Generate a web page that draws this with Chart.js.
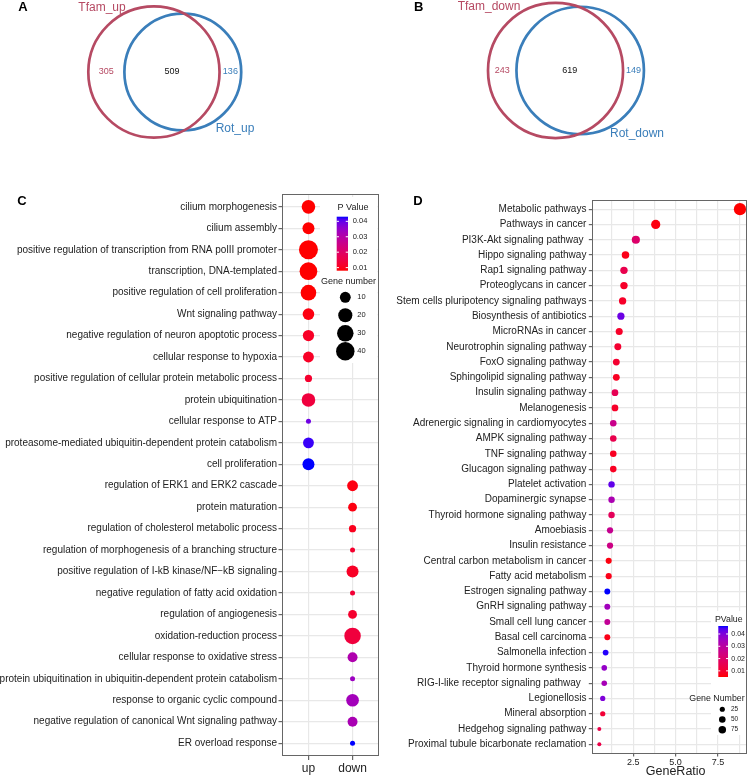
<!DOCTYPE html>
<html>
<head>
<meta charset="utf-8">
<script src="https://cdn.jsdelivr.net/npm/chart.js@4.4.1/dist/chart.umd.min.js"></script>
<style>
  html, body { margin: 0; padding: 0; background: #fff; }
  #fig { position: relative; width: 748px; height: 778px; overflow: hidden; }
  #fig canvas { position: absolute; }
</style>
</head>
<body>
<div id="fig">
  <canvas id="vennA" width="374" height="180" style="left:0;top:0"></canvas>
  <canvas id="vennB" width="374" height="180" style="left:374px;top:0"></canvas>
  <canvas id="goC" width="380" height="598" style="left:0;top:180px"></canvas>
  <canvas id="keggD" width="368" height="598" style="left:380px;top:180px"></canvas>
</div>
<script>
// ---- data ---------------------------------------------------------------
// Venn counts: [only first set, shared, only second set]
const vennUpSets = ["Tfam_up", "Rot_up"];
const vennUpCounts = [305, 509, 136];
const vennDownSets = ["Tfam_down", "Rot_down"];
const vennDownCounts = [243, 619, 149];

// GO terms (panel C)
const goGroups = ["up", "down"];
const goTerms = [
  "cilium morphogenesis",
  "cilium assembly",
  "positive regulation of transcription from RNA polII promoter",
  "transcription, DNA-templated",
  "positive regulation of cell proliferation",
  "Wnt signaling pathway",
  "negative regulation of neuron apoptotic process",
  "cellular response to hypoxia",
  "positive regulation of cellular protein metabolic process",
  "protein ubiquitination",
  "cellular response to ATP",
  "proteasome-mediated ubiquitin-dependent protein catabolism",
  "cell proliferation",
  "regulation of ERK1 and ERK2 cascade",
  "protein maturation",
  "regulation of cholesterol metabolic process",
  "regulation of morphogenesis of a branching structure",
  "positive regulation of I-kB kinase/NF\u2212kB signaling",
  "negative regulation of fatty acid oxidation",
  "regulation of angiogenesis",
  "oxidation-reduction process",
  "cellular response to oxidative stress",
  "protein ubiquitination in ubiquitin-dependent protein catabolism",
  "response to organic cyclic compound",
  "negative regulation of canonical Wnt signaling pathway",
  "ER overload response"
];
const goGroup = ["up", "up", "up", "up", "up", "up", "up", "up", "up", "up", "up", "up", "up",
  "down", "down", "down", "down", "down", "down", "down", "down", "down", "down", "down", "down", "down"];
const goCount = [18, 13, 43, 36, 26, 12, 11, 10, 4, 18, 3, 10, 13,
  10, 6, 4, 3, 13, 3, 6, 30, 8, 3, 15, 8, 3];
const goPValue = [0.008, 0.008, 0.008, 0.008, 0.008, 0.009, 0.011, 0.011, 0.012, 0.014, 0.039, 0.042, 0.043,
  0.009, 0.009, 0.010, 0.012, 0.011, 0.013, 0.012, 0.014, 0.031, 0.034, 0.033, 0.032, 0.043];

// KEGG pathways (panel D)
const keggPathways = [
  "Metabolic pathways", "Pathways in cancer", "PI3K-Akt signaling pathway ", "Hippo signaling pathway",
  "Rap1 signaling pathway", "Proteoglycans in cancer", "Stem cells pluripotency signaling pathways",
  "Biosynthesis of antibiotics", "MicroRNAs in cancer", "Neurotrophin signaling pathway", "FoxO signaling pathway",
  "Sphingolipid signaling pathway", "Insulin signaling pathway", "Melanogenesis",
  "Adrenergic signaling in cardiomyocytes", "AMPK signaling pathway", "TNF signaling pathway",
  "Glucagon signaling pathway", "Platelet activation", "Dopaminergic synapse", "Thyroid hormone signaling pathway",
  "Amoebiasis", "Insulin resistance", "Central carbon metabolism in cancer", "Fatty acid metabolism",
  "Estrogen signaling pathway", "GnRH signaling pathway", "Small cell lung cancer", "Basal cell carcinoma",
  "Salmonella infection", "Thyroid hormone synthesis", "RIG-I-like receptor signaling pathway  ",
  "Legionellosis", "Mineral absorption", "Hedgehog signaling pathway", "Proximal tubule bicarbonate reclamation"
];
const keggRatio = [8.79, 3.83, 2.66, 2.05, 1.96, 1.96, 1.88, 1.78, 1.68, 1.60, 1.51, 1.51, 1.43, 1.43,
  1.33, 1.33, 1.33, 1.33, 1.23, 1.23, 1.23, 1.14, 1.14, 1.06, 1.06, 0.98, 0.98, 0.98, 0.98,
  0.88, 0.80, 0.80, 0.71, 0.71, 0.51, 0.51];
const keggCount = [325, 142, 98, 76, 72, 72, 69, 66, 62, 59, 56, 56, 53, 53,
  49, 49, 49, 49, 46, 46, 46, 42, 42, 39, 39, 36, 36, 36, 36,
  33, 30, 30, 26, 26, 19, 19];
const keggPValue = [0.005, 0.006, 0.020, 0.007, 0.015, 0.009, 0.009, 0.042, 0.009, 0.010, 0.010, 0.008, 0.016, 0.009,
  0.026, 0.015, 0.008, 0.008, 0.043, 0.033, 0.017, 0.027, 0.025, 0.006, 0.007, 0.0465, 0.035, 0.028, 0.007,
  0.046, 0.037, 0.034, 0.040, 0.011, 0.014, 0.014];
const keggTicks = [2.5, 5.0, 7.5];

const pBreaks = [0.01, 0.02, 0.03, 0.04];
const goSizeBreaks = [10, 20, 30, 40];
const keggSizeBreaks = [25, 50, 75];

// ---- styling ------------------------------------------------------------
const FONT = "'Liberation Sans', Arial, Helvetica, sans-serif";
const TEXT = "#222222";
const GRID = "#E8E8E8";
const AXIS = "#666666";
const VENN_RED = "#B64A63";
const VENN_BLUE = "#3A7EBA";
const VENN_K = 2.3; // px per sqrt(gene)

Chart.defaults.font.family = FONT;

// ---- helpers ------------------------------------------------------------
// ggplot style red -> blue gradient, interpolated in CIE Lab
function srgbToLab([r, g, b]) {
  const lin = (c) => { c /= 255; return c <= 0.04045 ? c / 12.92 : ((c + 0.055) / 1.055) ** 2.4; };
  const R = lin(r), G = lin(g), B = lin(b);
  const X = (0.4124564 * R + 0.3575761 * G + 0.1804375 * B) / 0.95047;
  const Y = 0.2126729 * R + 0.7151522 * G + 0.0721750 * B;
  const Z = (0.0193339 * R + 0.1191920 * G + 0.9503041 * B) / 1.08883;
  const f = (t) => t > 216 / 24389 ? Math.cbrt(t) : (24389 / 27 * t + 16) / 116;
  const fx = f(X), fy = f(Y), fz = f(Z);
  return [116 * fy - 16, 500 * (fx - fy), 200 * (fy - fz)];
}

function labToRgb([L, a, b]) {
  const fy = (L + 16) / 116, fx = fy + a / 500, fz = fy - b / 200;
  const inv = (t) => t ** 3 > 216 / 24389 ? t ** 3 : (116 * t - 16) / (24389 / 27);
  const X = inv(fx) * 0.95047, Y = inv(fy), Z = inv(fz) * 1.08883;
  const R = 3.2404542 * X - 1.5371385 * Y - 0.4985314 * Z;
  const G = -0.9692660 * X + 1.8760108 * Y + 0.0415560 * Z;
  const B = 0.0556434 * X - 0.2040259 * Y + 1.0572252 * Z;
  const gam = (c) => {
    const v = c <= 0.0031308 ? 12.92 * c : 1.055 * c ** (1 / 2.4) - 0.055;
    return Math.round(Math.min(1, Math.max(0, v)) * 255);
  };
  return `rgb(${gam(R)}, ${gam(G)}, ${gam(B)})`;
}

const LOW = srgbToLab([255, 0, 0]);
const HIGH = srgbToLab([0, 0, 255]);
const ramp = (t) => labToRgb(LOW.map((v, i) => v + (HIGH[i] - v) * Math.min(1, Math.max(0, t))));

function colourScale(values) {
  const min = Math.min(...values), max = Math.max(...values);
  return { limits: [min, max], colour: (v) => ramp((v - min) / (max - min)) };
}

// scale_size style: radius grows with sqrt of the rescaled value
function sizeScale(values, rMin, rMax) {
  const min = Math.min(...values), max = Math.max(...values);
  return (v) => rMin + (rMax - rMin) * Math.sqrt(Math.max(0, (v - min) / (max - min)));
}

function lensArea(r1, r2, d) {
  if (d >= r1 + r2) return 0;
  if (d <= Math.abs(r1 - r2)) return Math.PI * Math.min(r1, r2) ** 2;
  const a1 = Math.acos((d * d + r1 * r1 - r2 * r2) / (2 * d * r1));
  const a2 = Math.acos((d * d + r2 * r2 - r1 * r1) / (2 * d * r2));
  return r1 * r1 * a1 + r2 * r2 * a2 -
    0.5 * Math.sqrt((-d + r1 + r2) * (d + r1 - r2) * (d - r1 + r2) * (d + r1 + r2));
}

function centreDistance(r1, r2, target) {
  let lo = Math.abs(r1 - r2), hi = r1 + r2;
  for (let i = 0; i < 60; i++) {
    const mid = (lo + hi) / 2;
    if (lensArea(r1, r2, mid) > target) lo = mid; else hi = mid;
  }
  return (lo + hi) / 2;
}

function panelLetter(ctx, letter, x, y) {
  ctx.save();
  ctx.font = `bold 13px ${FONT}`;
  ctx.fillStyle = "#000";
  ctx.textAlign = "left";
  ctx.textBaseline = "alphabetic";
  ctx.fillText(letter, x, y);
  ctx.restore();
}

const baseOptions = {
  responsive: false,
  animation: false,
  devicePixelRatio: 1,
  events: [],
  plugins: { legend: { display: false }, tooltip: { enabled: false } }
};

// ---- Venn panels (A, B) ----------------------------------------------------
function vennChart(canvasId, sets, counts, layout) {
  const [onlyA, shared, onlyB] = counts;
  const r1 = VENN_K * Math.sqrt(onlyA + shared);
  const r2 = VENN_K * Math.sqrt(onlyB + shared);
  const d = centreDistance(r1, r2, Math.PI * VENN_K * VENN_K * shared);
  const cx1 = layout.left + r1;
  const cx2 = cx1 + d;
  const canvas = document.getElementById(canvasId);
  const circle = (x, r, colour) => ({
    data: [{ x, y: layout.cy, r }],
    borderColor: colour,
    backgroundColor: "rgba(0,0,0,0)",
    borderWidth: 2.7,
    clip: false
  });

  return new Chart(canvas, {
    type: "bubble",
    data: { datasets: [circle(cx1, r1, VENN_RED), circle(cx2, r2, VENN_BLUE)] },
    options: {
      ...baseOptions,
      layout: { padding: 0, autoPadding: false },
      scales: {
        x: { type: "linear", display: false, min: 0, max: canvas.width },
        y: { type: "linear", display: false, min: 0, max: canvas.height, reverse: true }
      }
    },
    plugins: [{
      id: "vennText",
      afterDatasetsDraw(chart) {
        const { ctx, scales: { x, y } } = chart;
        const px = (v) => x.getPixelForValue(v);
        const cy = y.getPixelForValue(layout.cy);
        const aLeft = px(cx1 - r1), aRight = px(cx1 + r1);
        const bLeft = px(cx2 - r2), bRight = px(cx2 + r2);
        ctx.save();
        ctx.textAlign = "center";
        ctx.textBaseline = "middle";
        ctx.font = `9px ${FONT}`;
        ctx.fillStyle = VENN_RED;
        ctx.fillText(String(onlyA), (aLeft + bLeft) / 2, cy);
        ctx.fillStyle = "#111";
        ctx.fillText(String(shared), (bLeft + aRight) / 2, cy);
        ctx.fillStyle = VENN_BLUE;
        ctx.fillText(String(onlyB), (aRight + bRight) / 2, cy);
        ctx.textBaseline = "alphabetic";
        ctx.font = `12px ${FONT}`;
        ctx.fillStyle = VENN_RED;
        ctx.fillText(sets[0], layout.labelA[0], layout.labelA[1]);
        ctx.fillStyle = VENN_BLUE;
        ctx.fillText(sets[1], layout.labelB[0], layout.labelB[1]);
        ctx.restore();
        panelLetter(ctx, layout.letter, layout.letterAt[0], layout.letterAt[1]);
      }
    }]
  });
}

vennChart("vennA", vennUpSets, vennUpCounts, {
  left: 88.3, cy: 72, labelA: [102, 10.5], labelB: [235, 132], letter: "A", letterAt: [18.3, 11]
});
vennChart("vennB", vennDownSets, vennDownCounts, {
  left: 114, cy: 70.5, labelA: [115, 9.5], labelB: [263, 136.5], letter: "B", letterAt: [40, 11]
});

// ---- shared dot-plot pieces ----------------------------------------------
function drawLegend(ctx, spec) {
  ctx.save();
  ctx.fillStyle = "#fff";
  ctx.fillRect(...spec.box);

  const [bx, by, bw, bh] = spec.bar;
  const grad = ctx.createLinearGradient(0, by + bh, 0, by);
  for (let i = 0; i <= 20; i++) grad.addColorStop(i / 20, ramp(i / 20));
  ctx.fillStyle = grad;
  ctx.fillRect(bx, by, bw, bh);

  ctx.fillStyle = TEXT;
  ctx.textAlign = "center";
  ctx.textBaseline = "middle";
  ctx.font = `${spec.titleSize}px ${FONT}`;
  ctx.fillText(spec.colourTitle, ...spec.colourTitleAt);
  ctx.fillText(spec.sizeTitle, ...spec.sizeTitleAt);

  ctx.textAlign = "left";
  ctx.font = `${spec.labelSize}px ${FONT}`;
  const [lo, hi] = spec.limits;
  spec.breaks.forEach((p) => {
    const yy = by + bh - (p - lo) / (hi - lo) * bh;
    ctx.strokeStyle = "#fff";
    ctx.lineWidth = 1;
    ctx.beginPath();
    ctx.moveTo(bx, yy); ctx.lineTo(bx + bw / 5, yy);
    ctx.moveTo(bx + bw * 4 / 5, yy); ctx.lineTo(bx + bw, yy);
    ctx.stroke();
    ctx.fillStyle = TEXT;
    ctx.fillText(p.toFixed(2), spec.barLabelX, yy);
  });

  spec.sizes.forEach((n, i) => {
    const yy = spec.dotY + i * spec.dotStep;
    ctx.fillStyle = "#000";
    ctx.beginPath();
    ctx.arc(spec.dotX, yy, spec.radius(n), 0, Math.PI * 2);
    ctx.fill();
    ctx.fillStyle = TEXT;
    ctx.font = `${spec.sizeLabelSize}px ${FONT}`;
    ctx.fillText(String(n), spec.sizeLabelX, yy);
  });
  ctx.restore();
}

const panelBorder = {
  id: "panelBorder",
  afterDraw(chart) {
    const { ctx, chartArea: a } = chart;
    ctx.save();
    ctx.strokeStyle = AXIS;
    ctx.lineWidth = 1;
    ctx.strokeRect(Math.round(a.left) + 0.5, Math.round(a.top) + 0.5,
      Math.round(a.right - a.left) - 1, Math.round(a.bottom - a.top) - 1);
    ctx.restore();
  }
};

function categoryAxis(labels, width, fontSize, padding) {
  return {
    type: "linear",
    reverse: true,
    bounds: "data",
    min: -0.6,
    max: labels.length - 0.4,
    afterBuildTicks: (s) => { s.ticks = labels.map((_, i) => ({ value: i })); },
    afterFit: (s) => { s.width = width; },
    ticks: {
      autoSkip: false,
      callback: (v) => labels[v],
      font: { family: FONT, size: fontSize },
      color: TEXT,
      padding
    },
    grid: { color: GRID, lineWidth: 1.2, tickLength: 3.5, tickColor: AXIS },
    border: { display: false }
  };
}

// ---- panel C: GO dot plot -------------------------------------------------
const goColour = colourScale(goPValue);
const goSize = sizeScale(goCount, 2.5, 9.5);

new Chart(document.getElementById("goC"), {
  type: "bubble",
  data: {
    datasets: [{
      data: goTerms.map((_, i) => ({ x: goGroups.indexOf(goGroup[i]) + 1, y: i, r: goSize(goCount[i]) })),
      backgroundColor: goPValue.map(goColour.colour),
      borderWidth: 0,
      clip: false
    }]
  },
  options: {
    ...baseOptions,
    layout: { padding: { top: 14, right: 1, left: 0, bottom: 0 }, autoPadding: false },
    scales: {
      x: {
        type: "linear",
        bounds: "data",
        min: 0.4,
        max: goGroups.length + 0.6,
        afterBuildTicks: (s) => { s.ticks = goGroups.map((_, i) => ({ value: i + 1 })); },
        afterFit: (s) => { s.height = 22; },
        ticks: { autoSkip: false, maxRotation: 0, callback: (v) => goGroups[v - 1], font: { family: FONT, size: 12 }, color: TEXT, padding: 1 },
        grid: { color: GRID, lineWidth: 1.2, tickLength: 4, tickColor: AXIS },
        border: { display: false }
      },
      y: categoryAxis(goTerms, 282, 10, 1.5)
    }
  },
  plugins: [{
    id: "goLegend",
    afterDatasetsDraw(chart) {
      drawLegend(chart.ctx, {
        box: [320, 17, 57.5, 166],
        bar: [336.7, 36.7, 11.3, 54],
        limits: goColour.limits,
        breaks: pBreaks,
        colourTitle: "P Value", colourTitleAt: [353, 27.7],
        sizeTitle: "Gene number", sizeTitleAt: [348.5, 101.7],
        titleSize: 9, labelSize: 7.5, sizeLabelSize: 7.5,
        barLabelX: 352.7,
        sizes: goSizeBreaks, radius: goSize,
        dotX: 345.3, dotY: 117.3, dotStep: 18, sizeLabelX: 357.3
      });
      panelLetter(chart.ctx, "C", 17.3, 25);
    }
  }, panelBorder]
});

// ---- panel D: KEGG dot plot -----------------------------------------------
const keggColour = colourScale(keggPValue);
const keggSize = sizeScale(keggCount, 2, 6.1);
const ratioMin = Math.min(...keggRatio), ratioMax = Math.max(...keggRatio);
const ratioPad = (ratioMax - ratioMin) * 0.05;
const keggGrid = [];
for (let v = keggTicks[0] / 2; v < ratioMax + ratioPad; v += keggTicks[0] / 2) keggGrid.push(v);
const isMajor = (v) => keggTicks.some((t) => Math.abs(t - v) < 1e-6);

new Chart(document.getElementById("keggD"), {
  type: "bubble",
  data: {
    datasets: [{
      data: keggPathways.map((_, i) => ({ x: keggRatio[i], y: i, r: keggSize(keggCount[i]) })),
      backgroundColor: keggPValue.map(keggColour.colour),
      borderWidth: 0,
      clip: false
    }]
  },
  options: {
    ...baseOptions,
    layout: { padding: { top: 20, right: 1, left: 0, bottom: 0 }, autoPadding: false },
    scales: {
      x: {
        type: "linear",
        bounds: "data",
        min: ratioMin - ratioPad,
        max: ratioMax + ratioPad,
        afterBuildTicks: (s) => { s.ticks = keggGrid.map((v) => ({ value: v })); },
        afterFit: (s) => { s.height = 24.5; },
        ticks: {
          autoSkip: false, maxRotation: 0,
          callback: (v) => isMajor(v) ? v.toFixed(1) : "",
          font: { family: FONT, size: 9 }, color: TEXT, padding: 0.5
        },
        grid: {
          color: GRID, lineWidth: 1.2, tickLength: 3,
          tickColor: (ctx) => isMajor(ctx.tick.value) ? AXIS : "rgba(0,0,0,0)"
        },
        border: { display: false }
      },
      y: categoryAxis(keggPathways, 212.3, 10, 2.4)
    }
  },
  plugins: [{
    id: "keggLegend",
    afterDatasetsDraw(chart) {
      const { ctx, chartArea } = chart;
      drawLegend(ctx, {
        box: [331, 431, 35, 124],
        bar: [338.3, 446, 9.7, 51],
        limits: keggColour.limits,
        breaks: pBreaks,
        colourTitle: "PValue", colourTitleAt: [348.8, 439.3],
        sizeTitle: "Gene Number", sizeTitleAt: [337, 518.3],
        titleSize: 8.8, labelSize: 7, sizeLabelSize: 6.5,
        barLabelX: 351.3,
        sizes: keggSizeBreaks, radius: keggSize,
        dotX: 342.3, dotY: 529.3, dotStep: 10.2, sizeLabelX: 351
      });
      // x axis title, sits a little right of the panel centre in the original
      ctx.save();
      ctx.font = `12.5px ${FONT}`;
      ctx.fillStyle = TEXT;
      ctx.textAlign = "center";
      ctx.textBaseline = "alphabetic";
      ctx.fillText("GeneRatio", (chartArea.left + chartArea.right) / 2 + 6, 595);
      ctx.restore();
      panelLetter(ctx, "D", 33.3, 25);
    }
  }, panelBorder]
});
</script>
</body>
</html>
